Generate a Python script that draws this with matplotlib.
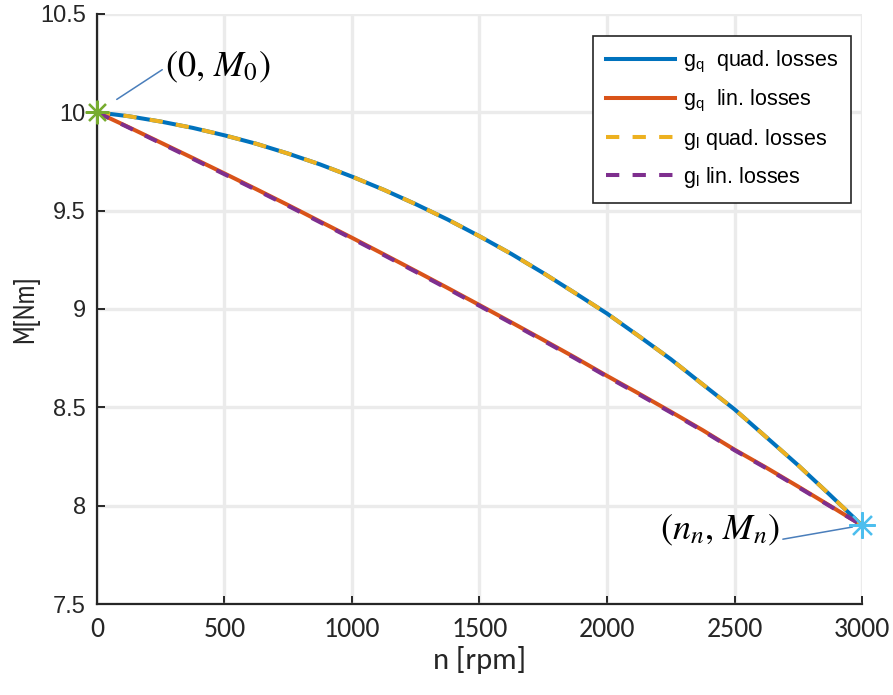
"""Torque vs speed for the two loss models (g_q / g_l), MATLAB-style look."""

import matplotlib

matplotlib.use("Agg")
import matplotlib.pyplot as plt
from matplotlib.ticker import FormatStrFormatter

# values (every 125 rpm)
speed_rpm = list(range(0, 3001, 125))
gq_quad = [10.0, 9.980, 9.953, 9.921, 9.883, 9.840, 9.790, 9.735, 9.673,
           9.606, 9.533, 9.455, 9.370, 9.280, 9.183, 9.081, 8.977, 8.862,
           8.745, 8.617, 8.49, 8.348, 8.205, 8.054, 7.9]
gq_lin = [10.0, 9.924, 9.846, 9.768, 9.689, 9.609, 9.528, 9.445, 9.362,
          9.278, 9.193, 9.107, 9.02, 8.932, 8.843, 8.753, 8.66, 8.57,
          8.478, 8.384, 8.285, 8.193, 8.097, 7.999, 7.9]
gl_quad = [10.0, 9.980, 9.953, 9.921, 9.883, 9.840, 9.790, 9.735, 9.673,
           9.606, 9.533, 9.455, 9.370, 9.280, 9.183, 9.081, 8.977, 8.862,
           8.745, 8.617, 8.49, 8.348, 8.205, 8.054, 7.9]
gl_lin = [10.0, 9.922, 9.843, 9.764, 9.685, 9.605, 9.524, 9.441, 9.358,
          9.274, 9.189, 9.103, 9.016, 8.928, 8.839, 8.749, 8.656, 8.566,
          8.474, 8.381, 8.282, 8.190, 8.094, 7.997, 7.9]
labels = [
    r"g$_\mathregular{q}$  quad. losses",
    r"g$_\mathregular{q}$  lin. losses",
    r"g$_\mathregular{l}$ quad. losses",
    r"g$_\mathregular{l}$ lin. losses",
]
start_pt = (0, 10.0)
end_pt = (3000, 7.9)

SANS = ["Liberation Sans", "DejaVu Sans"]
CALIBRI = ["Carlito", "Liberation Sans", "DejaVu Sans"]
NARROW = ["PT Sans Narrow", "Liberation Sans", "DejaVu Sans"]

plt.rcParams["font.family"] = SANS

fig = plt.figure(figsize=(8.93, 6.95), dpi=100)
ax = fig.add_axes([0.1086, 0.1309, 0.8567, 0.849])

lw = 2.9
ax.plot(speed_rpm, gq_quad, color="#0072BD", lw=lw, label=labels[0], zorder=3)
ax.plot(speed_rpm, gq_lin, color="#D95319", lw=lw, label=labels[1], zorder=3)
ax.plot(speed_rpm, gl_quad, color="#EDB120", lw=lw, dashes=(3.3, 3.3),
        label=labels[2], zorder=4)
ax.plot(speed_rpm, gl_lin, color="#7E2F8E", lw=lw, dashes=(3.3, 3.3),
        label=labels[3], zorder=4)

# asterisk markers at the two end points
ax.plot(*start_pt, marker=(8, 2, 0), ms=17, mew=1.6, color="#77AC30",
        clip_on=False, zorder=5)
ax.plot(*end_pt, marker=(8, 2, 0), ms=19, mew=1.6, color="#4DBEEE",
        clip_on=False, zorder=5)

ax.annotate(r"$(0,\,M_0)$", xy=start_pt, xytext=(49, 32),
            textcoords="offset points", ha="left", va="center",
            fontsize=26, math_fontfamily="stix",
            arrowprops=dict(arrowstyle="-", color="#4a7ebb", lw=1.1,
                            relpos=(0, 0.5), shrinkA=0, shrinkB=17))
ax.annotate(r"$(n_n,\,M_n)$", xy=end_pt, xytext=(-59, -4),
            textcoords="offset points", ha="right", va="center",
            fontsize=26, math_fontfamily="stix",
            arrowprops=dict(arrowstyle="-", color="#4a7ebb", lw=1.1,
                            relpos=(1, 0.25), shrinkA=0, shrinkB=7))

ax.set_xlim(0, 3000)
ax.set_ylim(7.5, 10.5)
ax.set_xticks(range(0, 3001, 500))
ax.set_yticks([7.5, 8, 8.5, 9, 9.5, 10, 10.5])
ax.yaxis.set_major_formatter(FormatStrFormatter("%g"))

ax.grid(True, color="#ebebeb", lw=2.4, zorder=0)
ax.set_axisbelow(True)
for side in ("top", "right"):
    ax.spines[side].set_visible(False)
for side in ("left", "bottom"):
    ax.spines[side].set_linewidth(1.6)
    ax.spines[side].set_color("#262626")

ax.tick_params(direction="in", length=6, width=1.4, color="#262626")
ax.tick_params(axis="y", labelsize=17, pad=8, labelcolor="#262626")
ax.tick_params(axis="x", labelsize=20, pad=9, labelcolor="#262626")
for t in ax.get_xticklabels():
    t.set_family(CALIBRI)

ax.set_xlabel("n [rpm]", family=CALIBRI, fontsize=22, color="#262626", labelpad=3)
ax.set_ylabel("M[Nm]", family=NARROW, fontsize=21, color="#262626")
ax.yaxis.set_label_coords(-0.076, 0.5)

leg = ax.legend(loc="upper right", bbox_to_anchor=(0.9856, 0.9627),
                borderaxespad=0, fontsize=15.5, handlelength=3.25,
                handletextpad=0.35, labelspacing=0.6, borderpad=0.6,
                fancybox=False, framealpha=1, edgecolor="#262626")
leg.get_frame().set_linewidth(1.2)

fig.savefig("out.png", dpi=100)
